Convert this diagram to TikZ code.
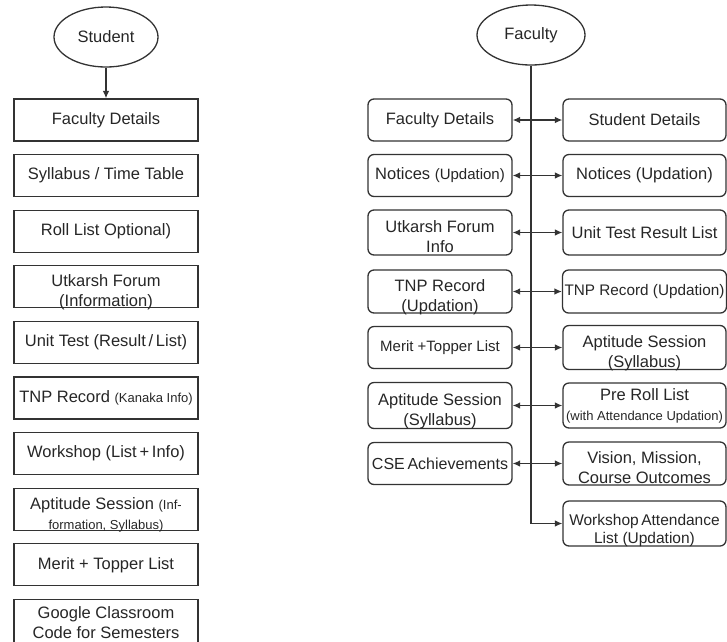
\documentclass[tikz,border=0pt]{standalone}
\usepackage{fontspec}
\setmainfont{Liberation Sans}
\usetikzlibrary{positioning, arrows.meta, shapes.geometric}
\definecolor{ink}{HTML}{333333}
\newcommand{\mainfs}{\fontsize{16.5}{20}\selectfont}
\newcommand{\minor}[1]{{\fontsize{13}{15.5}\selectfont #1}}
\tikzset{
    arrow/.style={draw=ink,line width=1.2pt,-{Latex[length=7.5pt,width=6.5pt]}},
    dblarrow/.style={draw=ink,line width=1.2pt,{Latex[length=7.5pt,width=6.5pt]}-{Latex[length=7.5pt,width=6.5pt]}},
    block/.style={shape=rectangle,draw=ink,line width=1.3pt,minimum width=184,minimum height=42,
        inner sep=2pt,align=center,text=black!85,font=\mainfs},
    rblock/.style={block,rounded corners=6pt,minimum width=144},
    rwide/.style={rblock,minimum width=163},
    twoline/.style={inner ysep=0pt,text height=40pt,text depth=0pt},
    actor/.style={shape=ellipse,draw=ink,line width=1.3pt,inner sep=0pt,text=black!85,font=\mainfs}
}

\begin{document}
\begin{tikzpicture}[x=1pt,y=-1pt]
    % define distances
    \def\gap{12.3pt}
    \useasboundingbox (0,0) rectangle (727,641);

    % student side
    \node [actor, minimum width=104, minimum height=60] at (106,37) (stu) {Student};
    \node [block] at (106,120)              (s1) {Faculty Details};
    \node [block, below=\gap of s1]          (s2) {Syllabus / Time Table};
    \node [block, below=\gap of s2]          (s3) {Roll List Optional)};
    \node [block, twoline, below=\gap of s3] (s4) {Utkarsh Forum\\(Information)};
    \node [block, below=\gap of s4]          (s5) {Unit Test (Result\,/\,List)};
    \node [block, below=\gap of s5]          (s6) {TNP Record \minor{(Kanaka Info)}};
    \node [block, below=\gap of s6]          (s7) {Workshop (List\,+\,Info)};
    \node [block, twoline, below=\gap of s7] (s8) {Aptitude Session \minor{(Inf-}\\\minor{formation, Syllabus)}};
    \node [block, below=\gap of s8]          (s9) {Merit + Topper List};
    \node [block, minimum height=46, below=\gap of s9] (s10) {Google Classroom\\Code for Semesters};

    % faculty side
    \node [actor, minimum width=108, minimum height=60] at (531,35) (fac) {Faculty};

    \node [rblock] at (440,120)   (l1) {Faculty Details};
    \node [rblock] at (440,175.5) (l2) {Notices {\fontsize{15}{18}\selectfont(Updation)}};
    \node [rblock, twoline, minimum height=45] at (440,232.5) (l3) {Utkarsh Forum\\Info};
    \node [rblock, twoline, minimum height=43] at (440,291.5) (l4) {TNP Record\\(Updation)};
    \node [rblock, font=\fontsize{15}{18}\selectfont] at (440,347.5) (l5) {Merit +Topper List};
    \node [rblock, twoline, minimum height=46] at (440,405.5) (l6) {Aptitude Session\\(Syllabus)};
    \node [rblock, font=\fontsize{16}{20}\selectfont] at (440,463.5) (l7) {CSE\,Achievements};

    \node [rwide] at (644.5,120)   (r1) {Student Details};
    \node [rwide] at (644.5,175.5) (r2) {Notices (Updation)};
    \node [rwide, minimum height=45] at (644.5,232.5) (r3) {Unit Test Result List};
    \node [rwide, minimum height=43, font=\fontsize{15.3}{18}\selectfont] at (644.5,291.5) (r4) {TNP Record (Updation)};
    \node [rwide, twoline, minimum height=44] at (644.5,347.5) (r5) {Aptitude Session\\(Syllabus)};
    \node [rwide, minimum height=45] at (644.5,405.5) (r6) {Pre Roll List\\\minor{(with Attendance Updation)}};
    \node [rwide, twoline, minimum height=43] at (644.5,463.5) (r7) {Vision, Mission,\\Course Outcomes};
    \node [rwide, twoline, minimum height=45, font=\fontsize{15.5}{18.5}\selectfont] at (644.5,523.5) (r8) {Workshop\,Attendance\\List (Updation)};

    % draw arrows
    \draw [arrow] (stu) -- (s1);
    \draw [arrow] (fac) |- (r8);
    \begin{scope}[dblarrow]
        \draw (l1) -- (r1);
        \draw (l2) -- (r2);
        \draw (l3) -- (r3);
        \draw (l4) -- (r4);
        \draw (l5) -- (r5);
        \draw (l6) -- (r6);
        \draw (l7) -- (r7);
    \end{scope}
\end{tikzpicture}
\end{document}
